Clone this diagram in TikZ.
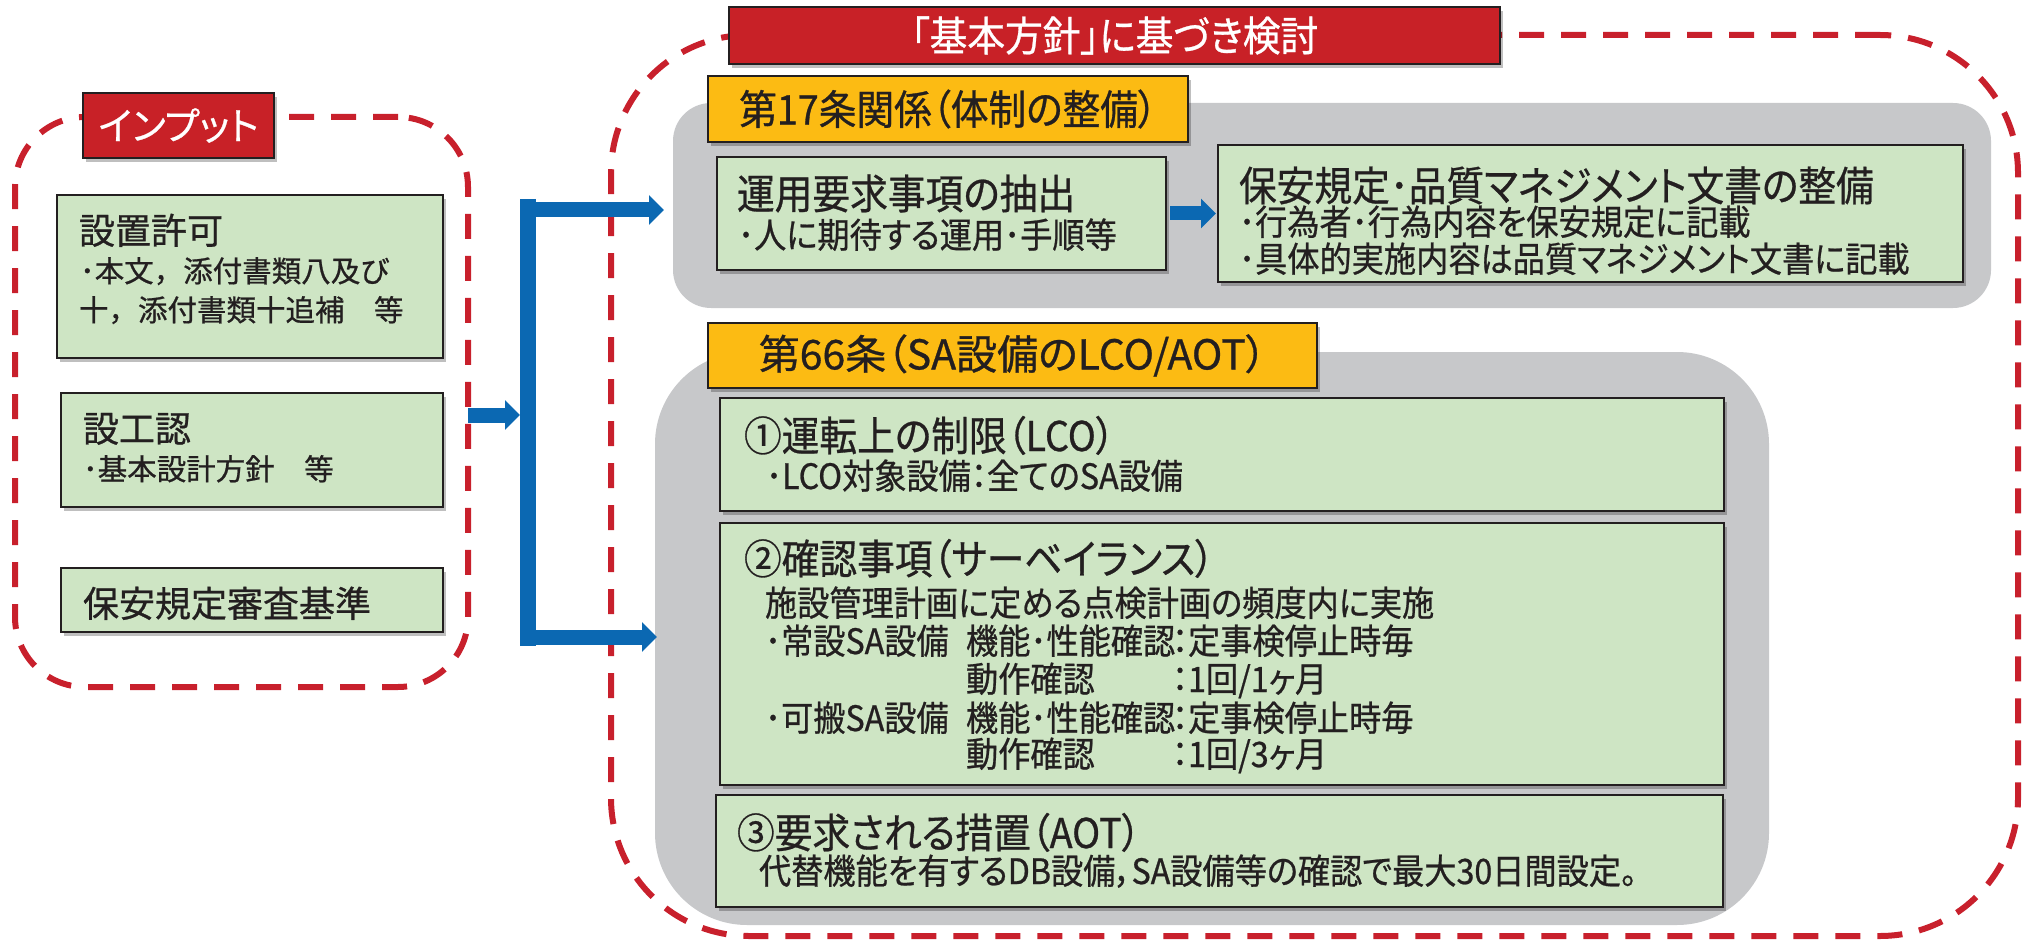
\documentclass[tikz,border=0pt]{standalone}
\usepackage{fontspec}
\newfontfamily\jpfont[FakeBold=0.7]{Noto Sans CJK JP}
\newfontfamily\jpkfont[FakeBold=0.7,RawFeature=+palt]{Noto Sans CJK JP}
\newfontfamily\jpcfont[FakeBold=0.7,FakeStretch=0.92,RawFeature=+palt]{Noto Sans CJK JP}
\usetikzlibrary{arrows.meta,shadows,positioning}

\definecolor{ink}{RGB}{35,31,32}
\definecolor{dashred}{RGB}{200,32,44}
\definecolor{titlered}{RGB}{200,33,39}
\definecolor{labelyellow}{RGB}{252,187,19}
\definecolor{boxgreen}{RGB}{206,229,196}
\definecolor{panelgray}{RGB}{199,200,202}
\definecolor{arrowblue}{RGB}{11,104,178}

\begin{document}
\begin{tikzpicture}[x=1pt, y=-1pt,
    every node/.style={inner sep=0pt, outer sep=0pt},
    boxshadow/.style={drop shadow={shadow xshift=3pt, shadow yshift=-4pt, opacity=0.25, fill=black}},
    redbox/.style={draw=ink, line width=2pt, fill=titlered, text=white, anchor=north west, boxshadow},
    grbox/.style={draw=ink, line width=2.5pt, fill=boxgreen, anchor=north west, boxshadow},
    ylbox/.style={draw=ink, line width=2pt, fill=labelyellow, text=ink, anchor=north west, boxshadow,
        font=\jpcfont\fontsize{41}{41}\selectfont},
    grpbox/.style={fill=panelgray, anchor=north west},
    dashbox/.style={draw=dashred, line width=6pt, dash pattern=on 25pt off 17pt, anchor=north west},
    barrow/.style={draw=arrowblue, line width=15pt, -{Triangle[length=15pt,width=29pt]}},
    lt/.style={anchor=base west, text=ink, font=\jpfont\fontsize{36}{36}\selectfont},
    ls/.style={anchor=base west, text=ink, font=\jpfont\fontsize{29.5}{30}\selectfont},
    rt/.style={anchor=base west, text=ink, font=\jpcfont\fontsize{41}{41}\selectfont},
    rs/.style={anchor=base west, text=ink, font=\jpcfont\fontsize{35}{35}\selectfont}]

    \useasboundingbox (0,0) rectangle (2026,941);

    % gray panels
    \node[grpbox, rounded corners=38pt, minimum width=1318pt, minimum height=205pt] (grp17) at (673,103) {};
    \node[grpbox, rounded corners=92pt, minimum width=1114pt, minimum height=573pt] (grp66) at (655,352) {};

    % dashed frames
    \node[dashbox, rounded corners=70pt, minimum width=453pt, minimum height=570pt] (inp) at (15,117) {};
    \node[dashbox, rounded corners=138pt, minimum width=1407pt, minimum height=901pt] (kento) at (611,35) {};

    % input side
    \node[grbox, minimum width=386pt, minimum height=163pt] (kyoka) at (57,195) {};
    \node[grbox, minimum width=382pt, minimum height=114pt] (sekoun) at (61,393) {};
    \node[grbox, minimum width=382pt, minimum height=64pt] (kijun) at (61,568) {};

    \node[lt] (kyoka-t) at (79,244) {設置許可};
    \node[ls] (kyoka-s1) at (80,282) {･本文，添付書類八及び};
    \node[ls] (kyoka-s2) at (79,321) {十，添付書類十追補　等};
    \node[lt] (sekoun-t) at (83,442) {設工認};
    \node[ls] (sekoun-s) at (83,480) {･基本設計方針　等};
    \node[lt] (kijun-t) at (83,617) {保安規定審査基準};

    % article 17
    \node[ylbox, minimum width=480pt, minimum height=66pt] (art17) at (708,76) {第17条関係（体制の整備）};
    \node[grbox, minimum width=449pt, minimum height=113pt] (unyo) at (717,157) {};
    \node[grbox, minimum width=745pt, minimum height=137pt] (hoan) at (1218,145) {};

    \node[rt] (unyo-t) at (737,209) {運用要求事項の抽出};
    \node[rs] (unyo-s) at (738,248) {･人に期待する運用･手順等};
    \node[rt] (hoan-t) at (1239,201) {保安規定･品質マネジメント文書の整備};
    \node[rs] (hoan-s1) at (1239,235) {･行為者･行為内容を保安規定に記載};
    \node[rs] (hoan-s2) at (1239,272) {･具体的実施内容は品質マネジメント文書に記載};

    % article 66
    \node[ylbox, minimum width=609pt, minimum height=65pt, font=\jpkfont\fontsize{41}{41}\selectfont] (art66) at (708,323) {第66条（SA設備のLCO/AOT）};
    \node[grbox, minimum width=1004pt, minimum height=113pt] (lco) at (720,398) {};
    \node[grbox, minimum width=1004pt, minimum height=262pt] (surv) at (720,523) {};
    \node[grbox, minimum width=1007pt, minimum height=112pt] (aot) at (716,795) {};

    \node[rt] (lco-t) at (744,451) {①運転上の制限（LCO）};
    \node[rs] (lco-s) at (766,489) {･LCO対象設備：全てのSA設備};
    \node[rt] (surv-t) at (744,574) {②確認事項（サーベイランス）};
    \node[rs] (surv-s1) at (765,616) {施設管理計画に定める点検計画の頻度内に実施};
    \node[rs] (surv-s2) at (765,654) {\makebox[201pt][l]{･常設SA設備}\makebox[206pt][l]{機能･性能確認}：定事検停止時毎};
    \node[rs] (surv-s3) at (765,692) {\hspace*{201pt}\makebox[206pt][l]{動作確認}：1回/1ヶ月};
    \node[rs] (surv-s4) at (765,731) {\makebox[201pt][l]{･可搬SA設備}\makebox[206pt][l]{機能･性能確認}：定事検停止時毎};
    \node[rs] (surv-s5) at (765,767) {\hspace*{201pt}\makebox[206pt][l]{動作確認}：1回/3ヶ月};
    \node[rt] (aot-t) at (737,848) {③要求される措置（AOT）};
    \node[rs] (aot-s) at (759,884) {代替機能を有するDB設備，SA設備等の確認で最大30日間設定。};

    % labels on the frames
    \node[redbox, minimum width=771pt, minimum height=57pt, font=\jpcfont\fontsize{41}{41}\selectfont] (kihon) at (729,7) {「基本方針」に基づき検討};
    \node[redbox, minimum width=191pt, minimum height=65pt, font=\jpkfont\fontsize{38}{38}\selectfont] (input) at (83,93) {インプット};

    % blue arrows
    \coordinate (bustop) at (528,199);
    \coordinate (busbot) at (528,646);
    \coordinate (busin) at (520,415);
    \coordinate (to17) at (664,210);
    \coordinate (to66) at (657,637);
    \draw[arrowblue, line width=16pt] (bustop) -- (busbot);
    \draw[barrow] (inp.east |- busin) -- (busin);
    \draw[barrow] (bustop |- to17) -- (to17);
    \draw[barrow] (bustop |- to66) -- (to66);
    \draw[barrow, line width=14pt, shorten <=4pt, shorten >=2pt] (unyo.east) -- (hoan.west);
\end{tikzpicture}
\end{document}
